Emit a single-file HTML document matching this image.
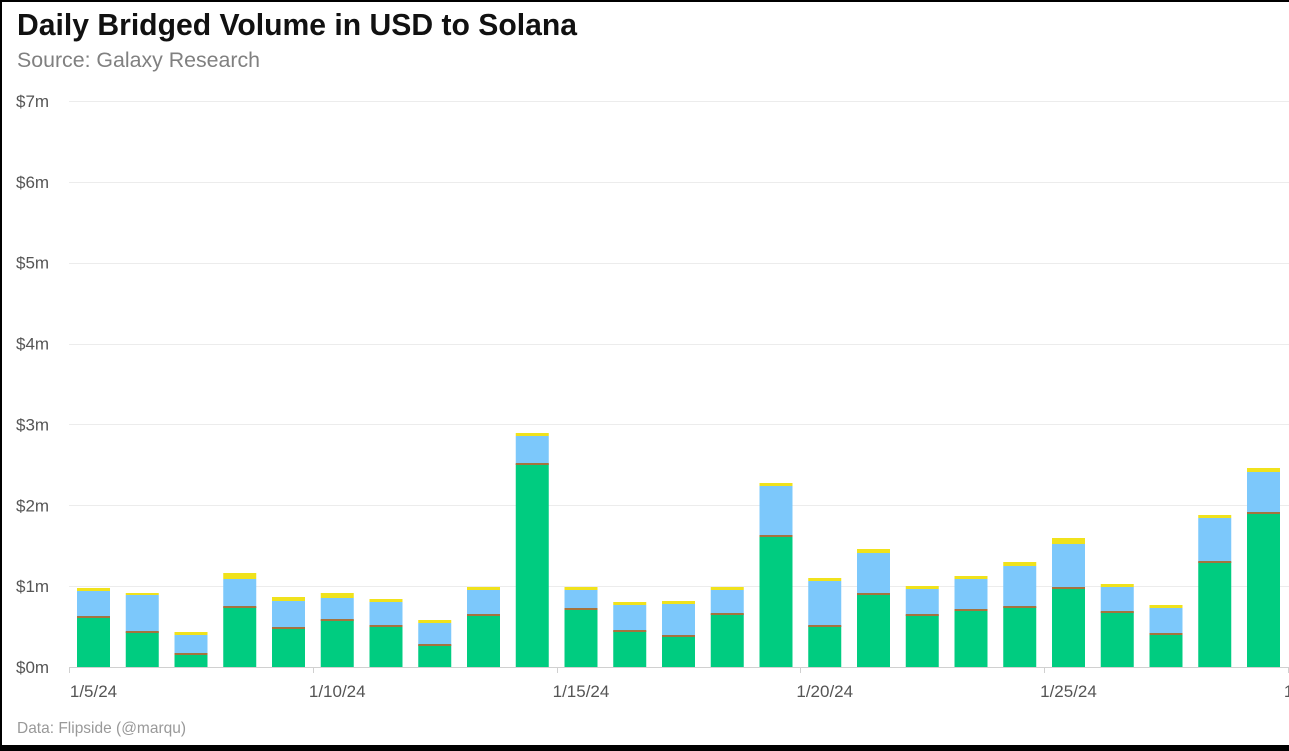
<!DOCTYPE html>
<html><head><meta charset="utf-8"><style>
html,body{margin:0;padding:0;background:#fff}
svg{display:block}
text{font-family:"Liberation Sans",sans-serif}
</style></head><body>
<svg id="s" width="1289" height="751" viewBox="0 0 1289 751" xmlns="http://www.w3.org/2000/svg">
<rect x="0" y="0" width="1289" height="751" fill="#fff"/>
<text x="17" y="35" font-size="31" font-weight="bold" fill="#111" textLength="560" lengthAdjust="spacingAndGlyphs">Daily Bridged Volume in USD to Solana</text>
<text x="17" y="67" font-size="21" fill="#808080" textLength="243" lengthAdjust="spacingAndGlyphs">Source: Galaxy Research</text>
<g id="grid"></g>
<g id="bars"></g>
<g id="labels" font-size="17" fill="#555"></g>
<text x="17" y="733" font-size="16" fill="#999" textLength="169" lengthAdjust="spacingAndGlyphs">Data: Flipside (@marqu)</text>
<rect x="0" y="0" width="1289" height="2" fill="#000"/>
<rect x="0" y="0" width="2" height="751" fill="#000"/>
<rect x="0" y="745" width="1289" height="6" fill="#000"/>
</svg>
<script>
var NS="http://www.w3.org/2000/svg";
function el(p,t,a,txt){var e=document.createElementNS(NS,t);for(var k in a)e.setAttribute(k,a[k]);if(txt)e.textContent=txt;document.getElementById(p).appendChild(e);return e;}
var y0=667,pm=80.86;
for(var k=1;k<=7;k++){var y=Math.round(y0-pm*k)+0.5;el('grid','line',{x1:69,x2:1289,y1:y,y2:y,stroke:'#ececec','stroke-width':1});}
for(var k=0;k<=7;k++){var y=y0-pm*k;el('labels','text',{x:16,y:y+6},'$'+k+'m');}
el('grid','line',{x1:69,x2:1289,y1:667.5,y2:667.5,stroke:'#d0d0d0','stroke-width':1});
for(var k=0;k<=5;k++){var x=Math.round(69+k*5*48.75)+0.5;el('grid','line',{x1:x,x2:x,y1:667,y2:673,stroke:'#d0d0d0','stroke-width':1});}
var L=['1/5/24','1/10/24','1/15/24','1/20/24','1/25/24','1/30/24'];
for(var k=0;k<6;k++){el('labels','text',{x:93.5+k*5*48.75,y:697,'text-anchor':'middle'},L[k]);}
var d=[[617,591,588],[632,595,593],[654,635,632],[607,579,573],[628,601,597],[620,598,593],[626,602,599],[645,623,620],[615,590,587],[464,436,433],[609,590,587],[631,605,602],[636,604,601],[614,590,587],[536,486,483],[626,581,578],[594,553,549],[615,589,586],[610,579,576],[607,566,562],[588,544,538],[612,587,584],[634,608,605],[562,518,515],[513,472,468]];
for(var i=0;i<d.length;i++){var x=77+i*48.75,w=33,g=d[i][0],b=d[i][1],t=d[i][2];
el('bars','rect',{x:x,y:t,width:w,height:b-t,fill:'#f0e21c'});
el('bars','rect',{x:x,y:b,width:w,height:g-b,fill:'#7cc8fb'});
el('bars','rect',{x:x,y:g,width:w,height:667-g,fill:'#00cc80'});
el('bars','rect',{x:x,y:g-1,width:w,height:2,fill:'#a5733e'});}
</script>
</body></html>
